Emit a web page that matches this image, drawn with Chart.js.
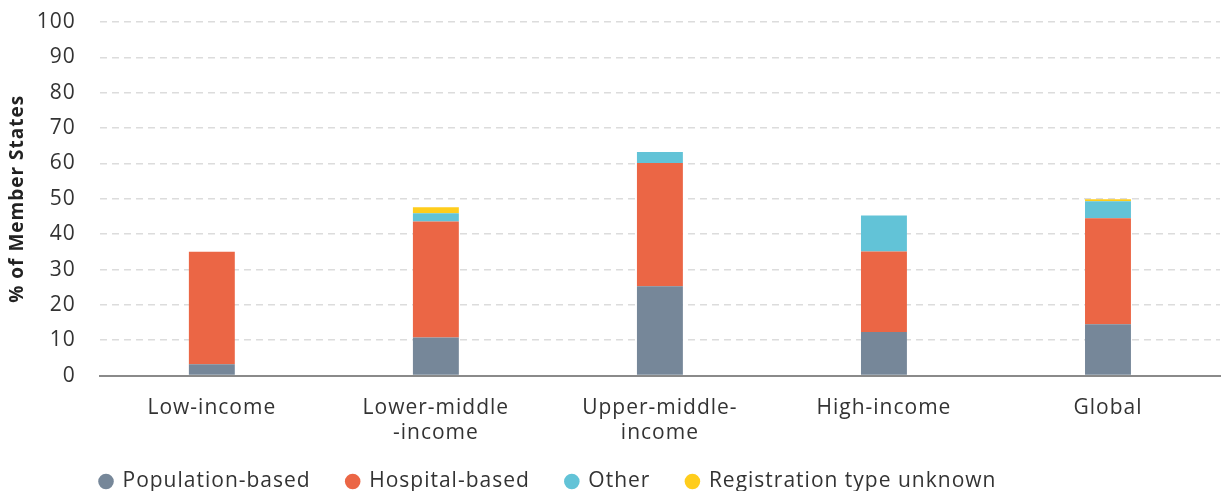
<!DOCTYPE html>
<html>
<head>
<meta charset="utf-8">
<script src="https://cdn.jsdelivr.net/npm/chart.js@4"></script>
<style>
  body { margin: 0; background: #fff; }
  .wrap { width: 1223px; height: 491px; }
</style>
</head>
<body>
<div class="wrap"><canvas id="myChart"></canvas></div>
<script>
// categories and series (% of Member States)
const categories = ["Low-income", ["Lower-middle", "-income"], ["Upper-middle-", "income"], "High-income", "Global"];
const populationBased = [3.2, 10.8, 25.3, 12.3, 14.5];
const hospitalBased = [31.8, 32.8, 34.8, 22.8, 30.0];
const other = [0, 2.3, 3.1, 10.2, 4.8];
const typeUnknown = [0, 1.7, 0, 0, 0.6];
const yTicks = [0, 10, 20, 30, 40, 50, 60, 70, 80, 90, 100];

const FONT = "'Open Sans', sans-serif";
Chart.defaults.font.family = FONT;
Chart.defaults.color = "#333";

// wider text like the original font, legend placed under the plot
const tweaks = {
  id: "tweaks",
  beforeUpdate(chart) { chart.ctx.letterSpacing = "1px"; },
  beforeDraw(chart) { chart.ctx.letterSpacing = "1px"; },
  afterLayout(chart) {
    chart.legend.left = 64;
    chart.legend.top = 435;
  },
};

var ctx = document.getElementById("myChart");
var myChart = new Chart(ctx, {
  type: "bar",
  data: {
    labels: categories,
    datasets: [
      { label: "Population-based", data: populationBased, backgroundColor: "#768799" },
      { label: "Hospital-based", data: hospitalBased, backgroundColor: "#EB6645" },
      { label: "Other", data: other, backgroundColor: "#62C3D7" },
      { label: "Registration type unknown", data: typeUnknown, backgroundColor: "#FFCD1C" },
    ],
  },
  options: {
    responsive: true,
    maintainAspectRatio: false,
    animation: false,
    barPercentage: 0.205,
    categoryPercentage: 1,
    layout: { padding: { top: 22, right: 3, left: 0, bottom: -42 } },
    plugins: {
      tooltip: { enabled: false },
      legend: {
        position: "bottom",
        align: "start",
        labels: {
          usePointStyle: true,
          pointStyle: "circle",
          boxWidth: 12,
          boxHeight: 11,
          padding: 36,
          font: { size: 21 },
          color: "#333",
        },
      },
    },
    scales: {
      x: {
        stacked: true,
        grid: { display: false, drawTicks: false },
        border: { color: "#8a8a8a", width: 2 },
        ticks: { font: { size: 21, lineHeight: 1.2 }, color: "#333", padding: 20, maxRotation: 0, autoSkip: false },
      },
      y: {
        stacked: true,
        min: 0,
        max: 100,
        afterBuildTicks: (axis) => { axis.ticks = yTicks.map((v) => ({ value: v })); },
        grid: { color: "#dcdcdc", lineWidth: 1.5, drawTicks: true, tickLength: 20, tickColor: "rgba(0,0,0,0)" },
        border: { display: false, dash: [7, 5] },
        ticks: { font: { size: 21 }, color: "#333", padding: 4 },
        title: {
          display: true,
          text: "% of Member States",
          font: { size: 19, weight: "bold" },
          color: "#222",
          padding: { top: 6, bottom: 4 },
        },
      },
    },
  },
  plugins: [tweaks],
});
</script>
</body>
</html>
